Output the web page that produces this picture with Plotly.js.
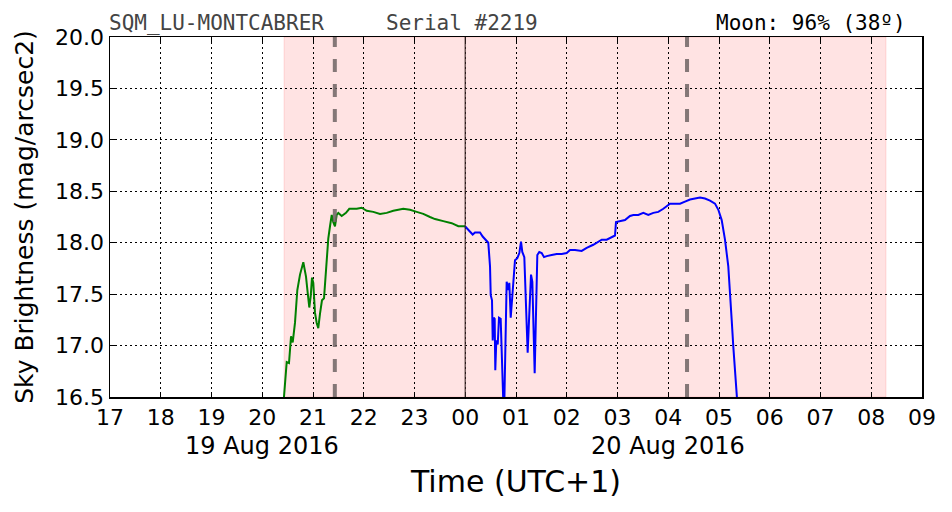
<!DOCTYPE html>
<html>
<head>
<meta charset="utf-8">
<script src="https://cdn.plot.ly/plotly-3.0.1.min.js"></script>
<style>html,body{margin:0;padding:0;background:#fff}#chart{width:952px;height:512px}</style>
</head>
<body>
<div id="chart"></div>
<script>
// Time in hours since 19 Aug 2016 00:00 (UTC+1); 24 = midnight 20 Aug
const greenHours = [20.42,20.482,20.527,20.567,20.600,20.645,20.691,20.744,20.809,20.862,20.896,20.927,20.955,20.980,21.006,21.039,21.073,21.104,21.138,21.177,21.217,21.256,21.301,21.335,21.369,21.400,21.433,21.467,21.499,21.566,21.650,21.715,21.861,21.960,22.058,22.188,22.320,22.452,22.582,22.779,22.911,23.043,23.173,23.305,23.404,23.567,23.733,23.863,23.995];
const greenMag = [16.45,16.84,16.83,17.09,17.03,17.22,17.54,17.69,17.81,17.67,17.51,17.37,17.48,17.66,17.61,17.32,17.22,17.17,17.31,17.44,17.46,17.75,18.04,18.16,18.27,18.20,18.16,18.27,18.29,18.26,18.29,18.33,18.33,18.34,18.31,18.30,18.28,18.29,18.31,18.33,18.32,18.30,18.28,18.25,18.23,18.21,18.19,18.16,18.16];

const blueHours = [23.995,24.061,24.146,24.192,24.291,24.343,24.409,24.454,24.488,24.502,24.527,24.541,24.561,24.580,24.592,24.612,24.640,24.665,24.698,24.730,24.750,24.770,24.816,24.849,24.868,24.896,24.927,24.947,24.980,25.026,25.066,25.099,25.124,25.164,25.197,25.230,25.262,25.296,25.322,25.342,25.368,25.394,25.420,25.459,25.506,25.552,25.605,25.703,25.802,25.900,25.999,26.064,26.163,26.294,26.393,26.523,26.621,26.689,26.787,26.886,26.951,26.970,27.049,27.148,27.246,27.312,27.410,27.509,27.607,27.706,27.804,27.903,28.034,28.232,28.330,28.429,28.527,28.626,28.724,28.823,28.921,28.987,29.053,29.118,29.183,29.217,29.250,29.282,29.315,29.360];
const blueMag = [18.16,18.12,18.08,18.10,18.10,18.06,18.03,18.00,17.77,17.49,17.44,17.05,17.27,17.26,16.76,17.05,17.01,17.27,17.26,16.57,16.45,16.45,17.62,17.54,17.61,17.27,17.49,17.61,17.83,17.85,17.90,18.01,17.91,17.86,17.38,16.93,17.31,17.69,17.62,17.31,16.73,17.31,17.88,17.91,17.90,17.86,17.87,17.88,17.89,17.89,17.90,17.93,17.93,17.92,17.95,17.98,18.01,18.03,18.03,18.05,18.07,18.20,18.21,18.22,18.26,18.27,18.27,18.29,18.27,18.29,18.30,18.33,18.38,18.38,18.40,18.42,18.43,18.44,18.43,18.41,18.38,18.32,18.22,18.03,17.77,17.54,17.25,16.99,16.73,16.45];

const tickVals = [17,18,19,20,21,22,23,24,25,26,27,28,29,30,31,32,33];
const tickLabels = ["17","18","19","20","21","22","23","00","01","02","03","04","05","06","07","08","09"];
const yTickVals = [16.5,17.0,17.5,18.0,18.5,19.0,19.5,20.0];
const yTickLabels = ["16.5","17.0","17.5","18.0","18.5","19.0","19.5","20.0"];
const dateLabels = ["19 Aug 2016","20 Aug 2016"];
const dateLabelHours = [20, 28];

const nightStart = 20.43, nightEnd = 32.29;   // shaded night interval
const moonMarks = [21.43, 28.37];             // dashed vertical lines
const midnight = 24.0;

const titleLeft = "SQM_LU-MONTCABRER";
const titleMid = "Serial #2219";
const titleRight = "Moon: 96% (38º)";

const font = "DejaVu Sans, sans-serif";
const mono = "DejaVu Sans Mono, monospace";

const traces = [
  {x: greenHours, y: greenMag, type: 'scatter', mode: 'lines', line: {color: '#008000', width: 2}, hoverinfo: 'skip'},
  {x: blueHours, y: blueMag, type: 'scatter', mode: 'lines', line: {color: '#0000ff', width: 2}, hoverinfo: 'skip'}
];

const shapes = [
  {type: 'rect', xref: 'x', yref: 'paper', x0: nightStart, x1: nightEnd, y0: 0, y1: 1,
   fillcolor: 'rgba(255,0,0,0.11)', line: {color: 'rgba(255,0,0,0.12)', width: 1}, layer: 'below'},
  {type: 'line', xref: 'x', yref: 'paper', x0: midnight, x1: midnight, y0: 0, y1: 1,
   line: {color: 'rgba(60,40,40,0.75)', width: 1.5}, layer: 'above'}
].concat(moonMarks.map(h => ({type: 'line', xref: 'x', yref: 'paper', x0: h, x1: h, y0: 0, y1: 1,
   line: {color: 'rgba(110,100,100,0.85)', width: 4, dash: '13px,12px'}, layer: 'above'})));

const annotations = [
  {text: titleLeft, xref: 'paper', yref: 'paper', x: 0, y: 1, xanchor: 'left', yanchor: 'bottom', xshift: -3, yshift: 0, showarrow: false, font: {family: mono, size: 21, color: '#444444'}},
  {text: titleMid, xref: 'paper', yref: 'paper', x: 0.337, y: 1, xanchor: 'left', yanchor: 'bottom', yshift: 0, showarrow: false, font: {family: mono, size: 21, color: '#444444'}},
  {text: titleRight, xref: 'paper', yref: 'paper', x: 0.983, y: 1, xanchor: 'right', yanchor: 'bottom', yshift: 0, showarrow: false, font: {family: mono, size: 21, color: '#000000'}}
].concat(dateLabels.map((t, i) => ({text: t, xref: 'x', yref: 'paper', x: dateLabelHours[i], y: 0, yanchor: 'middle', yshift: -49, showarrow: false, font: {family: font, size: 24, color: '#000'}})));

const layout = {
  width: 952, height: 512,
  margin: {l: 110, r: 30, t: 37, b: 115},
  paper_bgcolor: '#fff', plot_bgcolor: '#fff',
  showlegend: false,
  font: {family: font, color: '#000'},
  xaxis: {
    range: [17, 33], tickvals: tickVals, ticktext: tickLabels,
    showgrid: true, gridcolor: '#000', gridwidth: 1, griddash: '2px,3px',
    showline: true, linecolor: '#000', linewidth: 1.5, mirror: 'ticks',
    ticks: 'inside', ticklen: 5, tickcolor: '#000',
    tickfont: {family: font, size: 22}, zeroline: false,
    title: {text: 'Time (UTC+1)', font: {family: font, size: 30}, standoff: 42}
  },
  yaxis: {
    range: [16.5, 20.0], tickvals: yTickVals, ticktext: yTickLabels,
    showgrid: true, gridcolor: '#000', gridwidth: 1, griddash: '2px,3px',
    showline: true, linecolor: '#000', linewidth: 1.5, mirror: 'ticks',
    ticks: 'inside', ticklen: 5, tickcolor: '#000',
    tickfont: {family: font, size: 22}, zeroline: false,
    title: {text: 'Sky Brightness (mag/arcsec2)', font: {family: font, size: 25}, standoff: 14}
  },
  shapes: shapes,
  annotations: annotations
};

Plotly.newPlot('chart', traces, layout, {displayModeBar: false, staticPlot: true});
</script>
</body>
</html>
